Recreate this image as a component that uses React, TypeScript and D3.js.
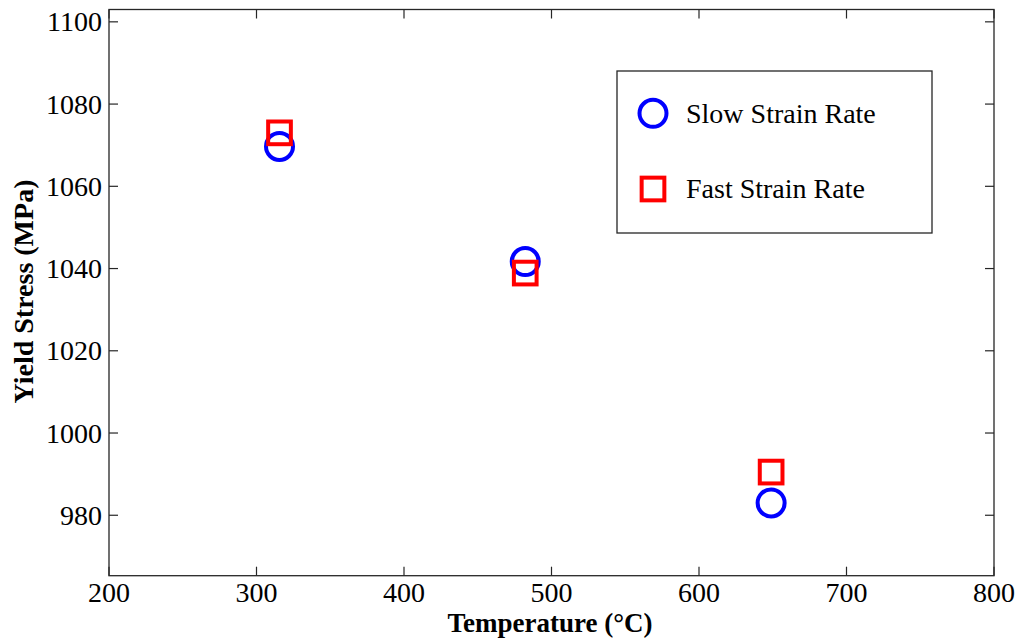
import React from "react";
import * as d3 from "d3";

// Test temperatures (°C) and measured yield stresses (MPa)
const temperatures = [315.6, 482.2, 648.9];
const slowStress = [1069.7, 1041.7, 983.0];
const fastStress = [1073.0, 1038.9, 990.5];

const xTicks = [200, 300, 400, 500, 600, 700, 800];
const yTicks = [980, 1000, 1020, 1040, 1060, 1080, 1100];

const seriesNames = ["Slow Strain Rate", "Fast Strain Rate"];

const W = 1021;
const H = 642;
const M = { left: 109, right: 994, top: 9.5, bottom: 575.7 };

const FONT = "'Liberation Serif', 'Times New Roman', serif";
const BLUE = "#0000ff";
const RED = "#ff0000";
const AXIS = "#262626";

export default function App() {
  const x = d3.scaleLinear().domain([200, 800]).range([M.left, M.right]);
  const y = d3.scaleLinear().domain([965.3, 1103]).range([M.bottom, M.top]);

  const tick = 9;
  const r = 13.5;
  const side = 22.7;

  const slow = temperatures.map((t, i) => ({ t, v: slowStress[i] }));
  const fast = temperatures.map((t, i) => ({ t, v: fastStress[i] }));

  const legend = { x0: 617, y0: 71, x1: 932, y1: 233 };

  return (
    <svg
      width={W}
      height={H}
      style={{ position: "absolute", left: 0, top: 0, background: "#fff" }}
      fontFamily={FONT}
    >
      <rect x={0} y={0} width={W} height={H} fill="#fff" />

      {/* axis ticks, drawn inward on all four sides */}
      {xTicks.map((t) => (
        <g key={`xt${t}`} stroke={AXIS} strokeWidth={1.2}>
          <line x1={x(t)} x2={x(t)} y1={M.bottom} y2={M.bottom - tick} />
          <line x1={x(t)} x2={x(t)} y1={M.top} y2={M.top + tick} />
        </g>
      ))}
      {yTicks.map((t) => (
        <g key={`yt${t}`} stroke={AXIS} strokeWidth={1.2}>
          <line x1={M.left} x2={M.left + tick} y1={y(t)} y2={y(t)} />
          <line x1={M.right} x2={M.right - tick} y1={y(t)} y2={y(t)} />
        </g>
      ))}

      {/* plot box */}
      <rect
        x={M.left}
        y={M.top}
        width={M.right - M.left}
        height={M.bottom - M.top}
        fill="none"
        stroke={AXIS}
        strokeWidth={1.3}
      />

      {/* tick labels */}
      {xTicks.map((t) => (
        <text key={`xl${t}`} x={x(t)} y={601.5} textAnchor="middle" fontSize={28} fill="#000">
          {t}
        </text>
      ))}
      {yTicks.map((t) => (
        <text
          key={`yl${t}`}
          x={M.left - 7}
          y={y(t) + 9.5}
          textAnchor="end"
          fontSize={28}
          fill="#000"
        >
          {t}
        </text>
      ))}

      {/* axis titles */}
      <text x={550} y={632} textAnchor="middle" fontSize={27} fontWeight="bold" fill="#000">
        Temperature (°C)
      </text>
      <text
        transform={`translate(33, 291.5) rotate(-90)`}
        textAnchor="middle"
        fontSize={28}
        fontWeight="bold"
        fill="#000"
      >
        Yield Stress (MPa)
      </text>

      {/* data markers */}
      {slow.map((d, i) => (
        <circle
          key={`s${i}`}
          cx={x(d.t)}
          cy={y(d.v)}
          r={r}
          fill="none"
          stroke={BLUE}
          strokeWidth={4}
        />
      ))}
      {fast.map((d, i) => (
        <rect
          key={`f${i}`}
          x={x(d.t) - side / 2}
          y={y(d.v) - side / 2}
          width={side}
          height={side}
          fill="none"
          stroke={RED}
          strokeWidth={4}
        />
      ))}

      {/* legend */}
      <rect
        x={legend.x0}
        y={legend.y0}
        width={legend.x1 - legend.x0}
        height={legend.y1 - legend.y0}
        fill="#fff"
        stroke={AXIS}
        strokeWidth={1.3}
      />
      <circle cx={653} cy={113.3} r={r} fill="none" stroke={BLUE} strokeWidth={4} />
      <text x={686} y={123.3} fontSize={28} fill="#000">
        {seriesNames[0]}
      </text>
      <rect
        x={653 - side / 2}
        y={189 - side / 2}
        width={side}
        height={side}
        fill="none"
        stroke={RED}
        strokeWidth={4}
      />
      <text x={686} y={198} fontSize={28} fill="#000">
        {seriesNames[1]}
      </text>
    </svg>
  );
}
